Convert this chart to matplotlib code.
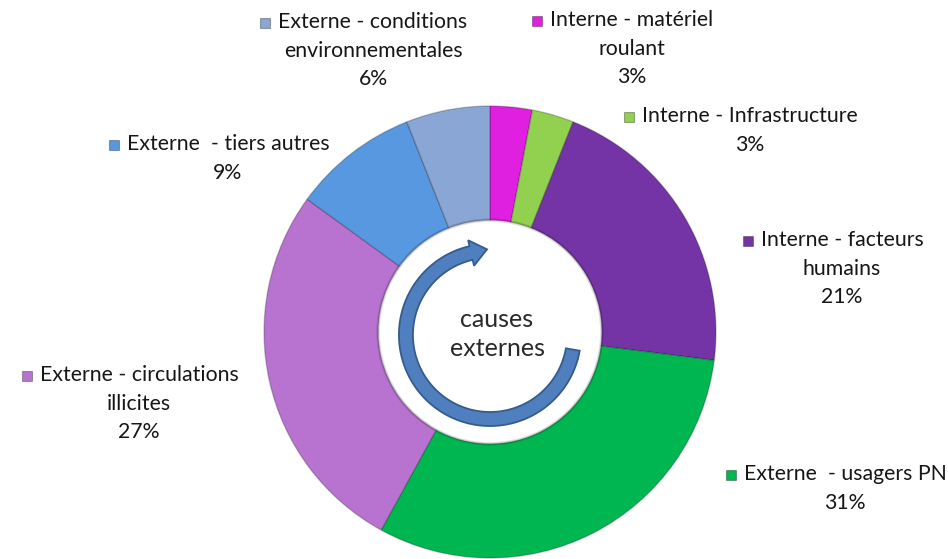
import numpy as np
import matplotlib
matplotlib.use("Agg")
import matplotlib.pyplot as plt
from matplotlib.patches import Polygon, Rectangle, Circle

# ---- data ----
categories = [
    "Interne - matériel\nroulant",
    "Interne - Infrastructure",
    "Interne - facteurs\nhumains",
    "Externe  - usagers PN",
    "Externe - circulations\nillicites",
    "Externe  - tiers autres",
    "Externe - conditions\nenvironnementales",
]
values = [3, 3, 21, 31, 27, 9, 6]
colors = ["#e020e0", "#92d050", "#7434a6", "#00b650", "#b873d0", "#5898e0", "#8aa6d4"]
center_text = "causes\nexternes"

# ---- layout ----
W, H = 948, 559
fig = plt.figure(figsize=(W / 100, H / 100), dpi=100)
cx, cy, R = 490, 332, 226
ax = fig.add_axes([(cx - R) / W, (H - cy - R) / H, 2 * R / W, 2 * R / H])
ax.set_xlim(-1, 1)
ax.set_ylim(-1, 1)
ax.set_aspect("equal")
ax.axis("off")

wedges, _ = ax.pie(values, colors=colors, startangle=90, counterclock=False,
                   radius=1.0, wedgeprops=dict(width=0.505, edgecolor=(0, 0, 0, 0.22), linewidth=1.0))
ax.set_xlim(-1, 1)
ax.set_ylim(-1, 1)

# soft shadow at inner hole edge
ax.add_patch(Circle((0, 0), 0.495, fill=False, edgecolor=(0, 0, 0, 0.12), linewidth=2.5))

# circular arrow
ay = -0.013
r0, hw, hh = 0.372, 0.031, 0.058
th_start, th_base, th_tip = -10, -257, -268
th = np.radians(np.linspace(th_start, th_base, 120))
outer = np.c_[(r0 + hw) * np.cos(th), (r0 + hw) * np.sin(th) + ay]
inner = np.c_[(r0 - hw) * np.cos(th[::-1]), (r0 - hw) * np.sin(th[::-1]) + ay]
tb, tt = np.radians(th_base), np.radians(th_tip)
head = np.array([
    [(r0 + hh) * np.cos(tb), (r0 + hh) * np.sin(tb) + ay],
    [r0 * np.cos(tt) / np.cos(tt - tb), r0 * np.sin(tt) / np.cos(tt - tb) + ay],
    [(r0 - hh) * np.cos(tb), (r0 - hh) * np.sin(tb) + ay],
])
poly = np.vstack([outer, head, inner])
ax.add_patch(Polygon(poly, closed=True, facecolor="#4f7fbf", edgecolor="#355c8c", linewidth=1.3, zorder=5))

ax.text(0.031, -0.01, center_text, ha="center", va="center", fontsize=18,
        family="Lato", color="#2a2a2a", linespacing=1.3, zorder=6)

# labels: (center x, first-line y) in pixels
label_pos = [(632, 20), (750, 116), (842, 240), (845, 474), (139, 375), (228, 144), (373, 22)]
line_h = 28.7
txt_color = "#161616"
fig.canvas.draw()
renderer = fig.canvas.get_renderer()
for name, v, col, (lx, ly) in zip(categories, values, colors, label_pos):
    lines = name.split("\n") + [f"{v}%"]
    first = None
    for i, ln in enumerate(lines):
        t = fig.text(lx / W, 1 - (ly + i * line_h) / H, ln, ha="center", va="center",
                     fontsize=15.3, family="Lato", color=txt_color)
        if i == 0:
            first = t
    bb = first.get_window_extent(renderer)
    x_left = bb.x0
    ms = 10
    fig.add_artist(Rectangle(((x_left - 18) / W, (H - ly - ms / 2 - 1) / H), ms / W, ms / H,
                             transform=fig.transFigure, facecolor=col,
                             edgecolor=(0, 0, 0, 0.3), linewidth=0.8))

fig.savefig("out.png", dpi=100)
